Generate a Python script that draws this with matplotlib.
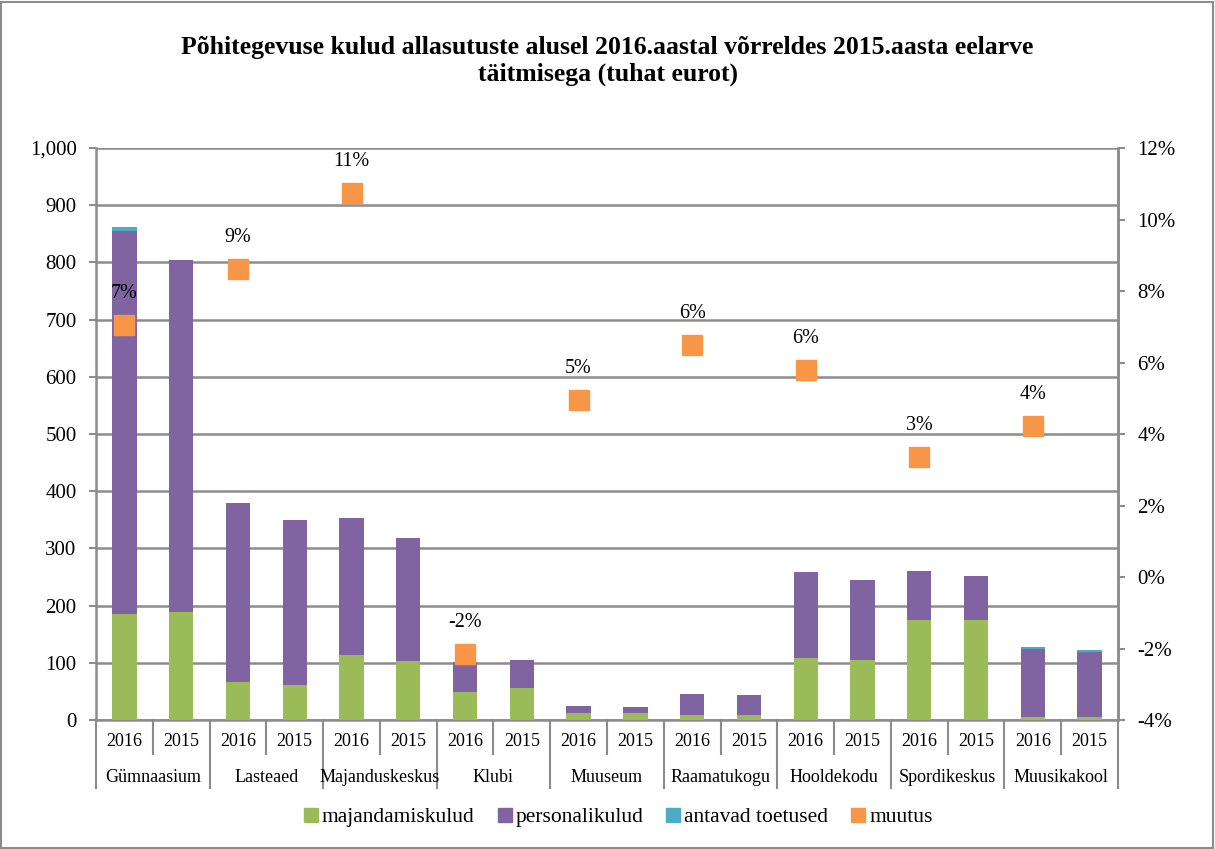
import matplotlib
matplotlib.use("Agg")
import matplotlib.pyplot as plt
import numpy as np
from matplotlib.patches import Rectangle
from matplotlib.lines import Line2D
import matplotlib.transforms as mtransforms

plt.rcParams['font.family'] = ['Liberation Serif', 'DejaVu Serif']

groups = ["Gümnaasium", "Lasteaed", "Majanduskeskus", "Klubi", "Muuseum",
          "Raamatukogu", "Hooldekodu", "Spordikeskus", "Muusikakool"]
years = ["2016", "2015"]

majandamiskulud = [185, 189, 67, 61, 114, 103, 49, 56, 13, 12, 9, 9, 109, 105, 174, 174, 6, 6]
personalikulud = [670, 616, 313, 289, 239, 215, 52, 49, 12, 11, 37, 34, 150, 140, 87, 78, 119, 113]
antavad_toetused = [7, 0, 0, 0, 0, 0, 0, 0, 0, 0, 0, 0, 0, 0, 0, 0, 2, 3]
muutus = [7.05, np.nan, 8.62, np.nan, 10.74, np.nan, -2.15, np.nan, 4.94, np.nan,
          6.48, np.nan, 5.78, np.nan, 3.35, np.nan, 4.22, np.nan]
muutus_labels = ["7%", "", "9%", "", "11%", "", "-2%", "", "5%", "", "6%", "", "6%", "", "3%", "", "4%", ""]
legend_labels = ["majandamiskulud", "personalikulud", "antavad toetused", "muutus"]

c_green = "#9BBB59"
c_purple = "#8064A2"
c_blue = "#4BACC6"
c_orange = "#F79646"
grid_c = "#8C8C8C"

fig = plt.figure(figsize=(12.15, 8.49), dpi=100)
fig.patches.append(Rectangle((0.001, 0.001), 0.997, 0.997, transform=fig.transFigure,
                             fill=False, edgecolor="#8C8C8C", linewidth=1.5))

ax = fig.add_axes([96/1215, 1-720/849, (1118-96)/1215, (720-148)/849])
n = len(majandamiskulud)
x = np.arange(n)
bw = 0.43
m = np.array(majandamiskulud)
p = np.array(personalikulud)
t = np.array(antavad_toetused)
ax.bar(x, m, bw, color=c_green, zorder=3)
ax.bar(x, p, bw, bottom=m, color=c_purple, zorder=3)
ax.bar(x, t, bw, bottom=m + p, color=c_blue, zorder=3)

ax.set_xlim(-0.5, n - 0.5)
ax.set_ylim(0, 1000)
ax.set_yticks(np.arange(0, 1001, 100))
ax.set_yticklabels([f"{v:,}" for v in range(0, 1001, 100)], fontsize=15)
ax.yaxis.grid(True, color=grid_c, linewidth=1.8, zorder=0)
ax.set_axisbelow(True)
ax.spines["top"].set_visible(False)
for s in ["left", "right", "bottom"]:
    ax.spines[s].set_color(grid_c)
    ax.spines[s].set_linewidth(1.8)
ax.tick_params(axis='y', colors=grid_c, length=5, width=1.5, labelcolor="black", pad=9)
ax.set_xticks([])

ax2 = ax.twinx()
ax2.set_ylim(-4, 12)
ax2.set_yticks(np.arange(-4, 13, 2))
ax2.set_yticklabels([f"{v}%" for v in range(-4, 13, 2)], fontsize=15)
ax2.tick_params(axis='y', colors=grid_c, length=5, width=1.5, labelcolor="black", pad=9)
for s in ["top", "left", "bottom"]:
    ax2.spines[s].set_visible(False)
ax2.spines["right"].set_color(grid_c)
ax2.spines["right"].set_linewidth(1.8)
ax2.plot(x, muutus, linestyle="none", marker="s", markersize=14.5, color=c_orange,
         markeredgecolor=c_orange, zorder=5)
for xi, v, lab in zip(x, muutus, muutus_labels):
    if lab:
        ax2.annotate(lab, (xi, v), xytext=(0, 16), textcoords="offset points",
                     ha="center", va="bottom", fontsize=14.5)

# two-level x labels
trans = mtransforms.blended_transform_factory(ax.transData, ax.transAxes)
h = 720 - 148
y_year = -(742 - 720) / h
y_grp = -(777 - 720) / h
y_sep1 = -(754 - 720) / h
y_sep2 = -(788 - 720) / h
for i in range(n):
    ax.text(i, y_year, years[i % 2], transform=trans, ha="center", va="center", fontsize=13)
for g, name in enumerate(groups):
    ax.text(2 * g + 0.5, y_grp, name, transform=trans, ha="center", va="center", fontsize=13)
for b in range(n + 1):
    xb = b - 0.5
    ybot = y_sep2 if b % 2 == 0 else y_sep1
    ax.plot([xb, xb], [0, ybot], transform=trans, color=grid_c, linewidth=1.5, clip_on=False)

fig.text(0.5, 1 - 61/849,
         "Põhitegevuse kulud allasutuste alusel 2016.aastal võrreldes 2015.aasta eelarve\ntäitmisega (tuhat eurot)",
         ha="center", va="center", fontsize=18.5, fontweight="bold", linespacing=1.2)

handles = [Line2D([], [], linestyle="none", marker="s", markersize=9.5, color=c)
           for c in [c_green, c_purple, c_blue, c_orange]]
fig.legend(handles, legend_labels, loc="center", bbox_to_anchor=(618/1215, 1 - 817/849),
           ncol=4, frameon=False, fontsize=15.5, handletextpad=0.15, columnspacing=1.05,
           handlelength=0.7)

fig.savefig("out.png", dpi=100)
